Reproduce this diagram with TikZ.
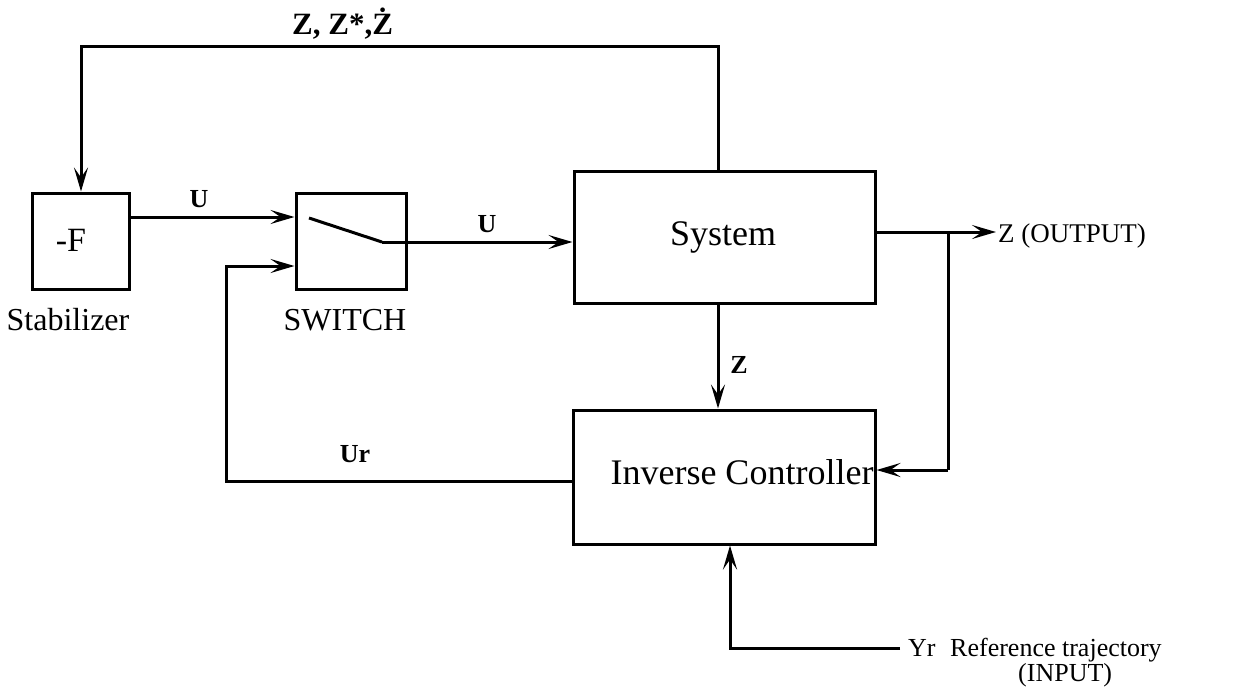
\documentclass[tikz,border=0pt]{standalone}
\usepackage{fontspec}
\setmainfont{Liberation Serif}
\usetikzlibrary{arrows.meta}
\newcommand\fsz[1]{\fontsize{#1}{#1}\selectfont}
\begin{document}
\begin{tikzpicture}[x=1pt,y=-1pt,
  blk/.style={draw,line width=3pt,inner sep=0pt},
  conn/.style={line width=3pt,-{Stealth[length=24pt,width=14pt,inset=10pt]}},
  wire/.style={line width=3pt},
  lab/.style={inner sep=0pt,anchor=base,font=\fsz{26}\bfseries},
  txt/.style={inner sep=0pt,anchor=base,font=\fsz{32}}]
\useasboundingbox (0,0) rectangle (1236,686);
% blocks
\node[blk,minimum width=97pt,minimum height=96pt] (f) at (80.5,241) {};
\node[inner sep=0pt,font=\fsz{34}] (ftxt) at (71,240) {-F};
\node[blk,minimum width=110pt,minimum height=96pt] (sw) at (351,241) {};
\node[blk,minimum width=301pt,minimum height=132pt] (sys) at (724.5,237) {};
\node[txt,font=\fsz{36}] (systxt) at (723,245) {System};
\node[blk,minimum width=302pt,minimum height=134pt] (inv) at (724,477) {};
\node[txt,font=\fsz{36}] (invtxt) at (742,484) {Inverse Controller};
% captions
\node[txt] (stab) at (68,330) {Stabilizer};
\node[txt] (swtxt) at (345,330) {SWITCH};
% coordinates
\coordinate (topR) at (718,46);
\coordinate (topL) at (81,46);
\coordinate (swa) at (309,218);
\coordinate (swb) at (382,242);
\coordinate (u1) at (0,217);
\coordinate (u2) at (0,266);
\coordinate (urL) at (226,481);
\coordinate (zx) at (718,0);
\coordinate (outy) at (0,232);
\coordinate (outtip) at (996,232);
\coordinate (br) at (948,232);
\coordinate (brd) at (948,470);
\coordinate (yr) at (900,648);
\coordinate (yrc) at (730,648);
% connectors
\draw[conn] (sys.north -| topR) -- (topR) -- (topL) -- (f.north -| topL);
\draw[conn] (f.east |- u1) -- (sw.west |- u1);
\draw[wire] (swa) -- (swb);
\draw[conn] (swb) -- (swb -| sys.west);
\draw[conn] (inv.west |- urL) -- (urL) -- (urL |- u2) -- (sw.west |- u2);
\draw[conn] (sys.south -| zx) -- (inv.north -| zx);
\draw[conn] (sys.east |- outy) -- (outtip);
\draw[wire] (br) -- (brd);
\draw[conn] (brd) -- (brd -| inv.east);
\draw[conn] (yr) -- (yrc) -- (inv.south -| yrc);
% labels
\node[lab] (lu1) at (199,207) {U};
\node[lab] (lu2) at (487,232) {U};
\node[lab] (lur) at (355,462) {Ur};
\node[lab] (lz) at (739,373) {Z};
\node[inner sep=0pt,anchor=base west,font=\fsz{31}\bfseries] (ltop) at (292,34) {Z, Z*,\.{Z}};
\node[inner sep=0pt,anchor=base west,font=\fsz{27}] (lout) at (998,242) {Z (OUTPUT)};
\node[inner sep=0pt,anchor=base west,font=\fsz{26}] (lyr) at (908,656) {Yr};
\node[inner sep=0pt,anchor=base west,font=\fsz{26}] (lref) at (950,656) {Reference trajectory};
\node[inner sep=0pt,anchor=base west,font=\fsz{26}] (linp) at (1018,681) {(INPUT)};
\end{tikzpicture}
\end{document}
